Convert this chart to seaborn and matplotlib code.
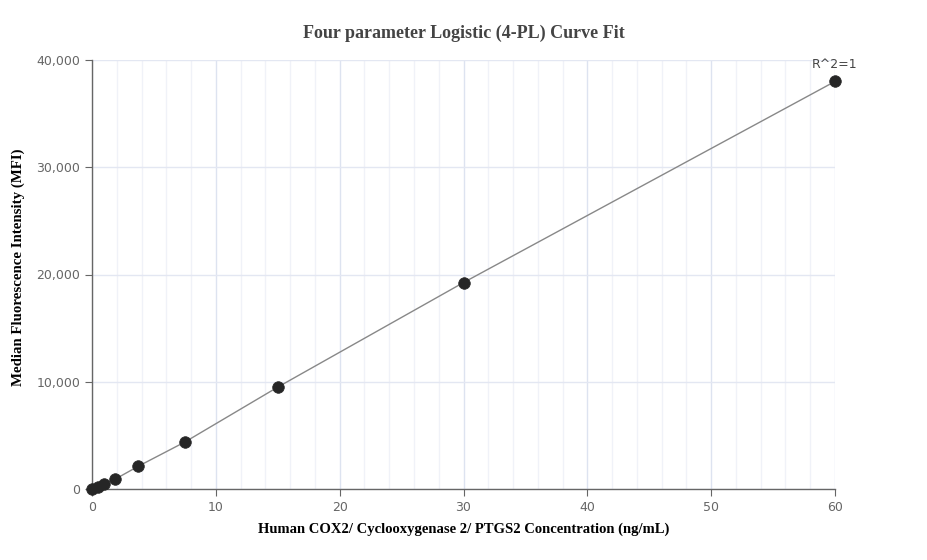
import numpy as np
import pandas as pd
import seaborn as sns
import matplotlib.pyplot as plt
from matplotlib.ticker import MultipleLocator, FuncFormatter

conc = [0, 0.469, 0.938, 1.875, 3.75, 7.5, 15, 30, 60]
mfi = [0, 190, 460, 920, 2130, 4380, 9500, 19250, 38000]

df = pd.DataFrame({'conc': conc, 'mfi': mfi})

sns.set_style('white')
fig = plt.figure(figsize=(9.27, 5.6), dpi=100)
ax = fig.add_axes([92 / 927, 1 - 489 / 560, (835 - 92) / 927, (489 - 60) / 560])

sns.lineplot(data=df, x='conc', y='mfi', color='#888888', linewidth=1, ax=ax, zorder=2)
sns.scatterplot(data=df, x='conc', y='mfi', color='#262626', s=70, edgecolor='#262626',
                linewidth=0.5, ax=ax, zorder=3, clip_on=False)

ax.set_xlim(0, 60)
ax.set_ylim(0, 40000)
ax.xaxis.set_major_locator(MultipleLocator(10))
ax.xaxis.set_minor_locator(MultipleLocator(2))
ax.yaxis.set_major_locator(MultipleLocator(10000))
ax.yaxis.set_major_formatter(FuncFormatter(lambda v, p: f'{int(v):,}'))

ax.grid(which='major', axis='x', color='#dde3f0', linewidth=1)
ax.grid(which='minor', axis='x', color='#f0f2f8', linewidth=1)
ax.grid(which='major', axis='y', color='#e3e7f2', linewidth=1)
ax.set_axisbelow(True)

for s in ['top', 'right']:
    ax.spines[s].set_visible(False)
for s in ['left', 'bottom']:
    ax.spines[s].set_color('#666666')
    ax.spines[s].set_linewidth(1)

ax.tick_params(axis='both', which='major', length=5, color='#666666', labelcolor='#666666',
               labelsize=9, direction='out', bottom=True, left=True)
ax.tick_params(axis='x', which='minor', length=0)

ax.set_xlabel('Human COX2/ Cyclooxygenase 2/ PTGS2 Concentration (ng/mL)',
              fontfamily='Liberation Serif', fontweight='bold', fontsize=10.5, color='black', labelpad=6)
ax.set_ylabel('Median Fluorescence Intensity (MFI)',
              fontfamily='Liberation Serif', fontweight='bold', fontsize=10.7, color='black')
ax.yaxis.set_label_coords((25 - 92) / 743, 0.518)

fig.text(464 / 927, 1 - 33 / 560, 'Four parameter Logistic (4-PL) Curve Fit',
         fontfamily='Liberation Serif', fontweight='bold', fontsize=13, color='#444444',
         ha='center', va='center')

ax.annotate('R^2=1', (conc[-1], mfi[-1]), xytext=(0, 12), textcoords='offset points',
            ha='center', va='center', fontsize=9, color='#444444', annotation_clip=False)

fig.savefig('out.png', dpi=100)
